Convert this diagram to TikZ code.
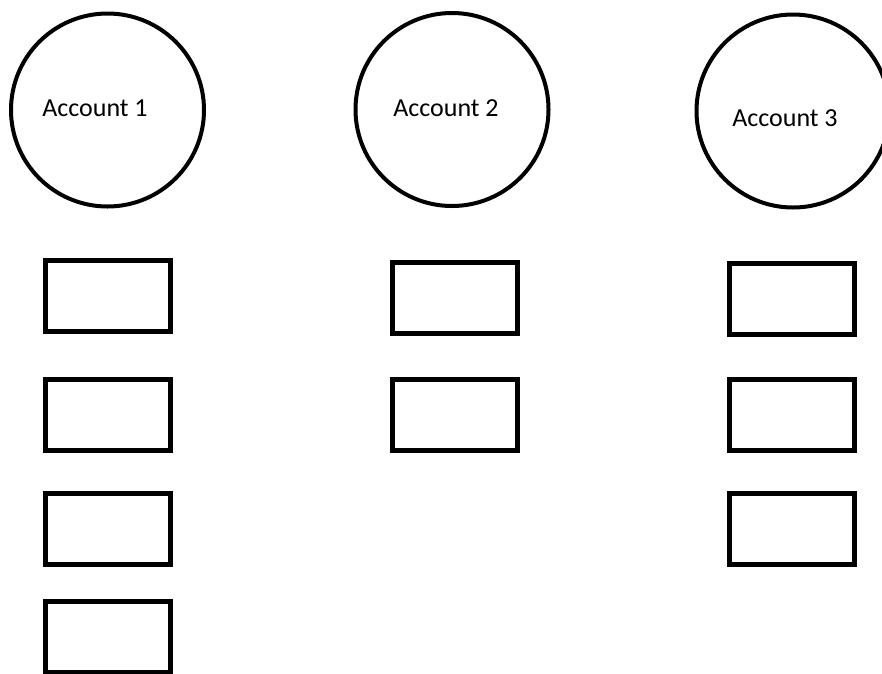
\documentclass[tikz,border=0pt]{standalone}
\usepackage{fontspec}
\setmainfont{Carlito}
\usepackage{tikz}

\tikzset{
  account/.style={draw, circle, line width=4pt, minimum size=193pt, inner sep=0pt},
  entry/.style={draw, rectangle, line width=5pt, minimum width=125pt, minimum height=71pt, inner sep=0pt},
  acctlabel/.style={font=\fontsize{26}{30}\selectfont, inner sep=0pt}
}

\begin{document}
\begin{tikzpicture}[x=1pt, y=-1pt]
	\useasboundingbox (0,0) rectangle (882,673);

	\node[account] (acc1) at (107.5,110) {};
	\node[account] (acc2) at (452,109.5) {};
	\node[account] (acc3) at (793,111) {};

	\node[acctlabel] (lab1) at (95,108) {Account 1};
	\node[acctlabel] (lab2) at (446,108) {Account 2};
	\node[acctlabel] (lab3) at (785,118) {Account 3};

	% entries under each account
	\foreach \i/\y in {1/296,2/415,3/529,4/637}{
	   \node[entry] (e1\i) at (108,\y) {};
	}
	\foreach \i/\y in {1/298,2/415}{
	   \node[entry] (e2\i) at (455,\y) {};
	}
	\foreach \i/\y in {1/298.5,2/414.5,3/528.5}{
	   \node[entry] (e3\i) at (791.5,\y) {};
	}
\end{tikzpicture}
\end{document}
